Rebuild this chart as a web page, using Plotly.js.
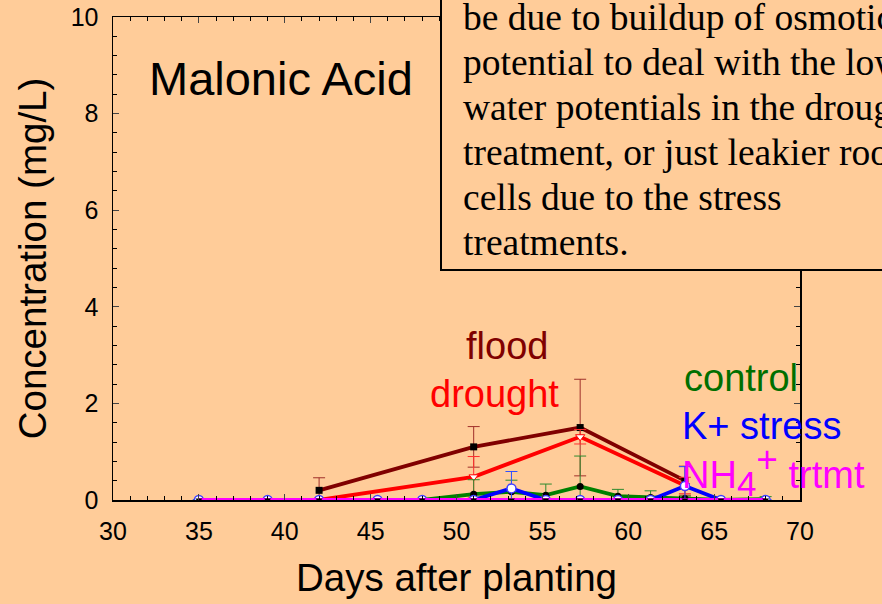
<!DOCTYPE html>
<html><head><meta charset="utf-8">
<script src="https://cdn.plot.ly/plotly-3.0.1.min.js"></script>
<style>html,body{margin:0;padding:0;background:#FFCC99;}</style>
</head><body>
<div id="chart" style="width:882px;height:604px;"></div>
<script>
// Days after planting (sampling dates)
const days = [35, 39, 42, 45.4, 48, 51, 53.2, 55.2, 57.2, 59.4, 61.3, 63.3, 65.4, 68];
const floodDays = [42, 51, 57.2, 63.3];
const floodVals = [0.2, 1.1, 1.5, 0.4];
const floodErr = [0.26, 0.42, 1.0, 0.3];
const droughtDays = [42, 51, 57.2, 63.3];
const droughtVals = [0, 0.48, 1.31, 0.3];
const droughtErr = [0, 0.42, 0.15, 0.17];
const controlVals = [0, 0, 0, 0, 0, 0.12, 0.17, 0.1, 0.28, 0.08, 0.05, 0.03, 0, 0.02];
const controlErr  = [0, 0, 0, 0, 0, 0.3, 0.24, 0.23, 0.63, 0.14, 0.14, 0.05, 0, 0.05];
const kVals = [0, 0, 0, 0, 0, 0, 0.24, 0, 0, 0, 0, 0.29, 0, 0];
const kErr  = [0, 0, 0, 0, 0, 0, 0.35, 0, 0, 0, 0, 0.4, 0, 0];
const nh4Vals = [0, 0, 0, 0, 0, 0, 0, 0, 0, 0, 0, 0, 0, 0];
const xTicks = [30, 35, 40, 45, 50, 55, 60, 65, 70];
const yTicks = [0, 2, 4, 6, 8, 10];
const noteLines = ["be due to buildup of osmotic", "potential to deal with the low", "water potentials in the drought", "treatment, or just leakier root", "cells due to the stress", "treatments."];

function errSpec(arr, color) {
  return {type: 'data', array: arr, visible: true, color: color, thickness: 1, width: 6};
}

const traces = [
  {x: floodDays, y: floodVals, mode: 'lines+markers', name: 'flood',
   line: {color: '#800000', width: 3.8},
   marker: {symbol: 'square', size: 7, color: '#000000'},
   error_y: errSpec(floodErr, '#A0302A')},
  {x: droughtDays, y: droughtVals, mode: 'lines+markers', name: 'drought',
   line: {color: '#FF0000', width: 3.8},
   marker: {symbol: 'triangle-down', size: 8, color: '#FFFFFF', line: {color: '#FF0000', width: 1}},
   error_y: errSpec(droughtErr, '#FF3030')},
  {x: days, y: controlVals, mode: 'lines+markers', name: 'control',
   line: {color: '#008000', width: 3.8},
   marker: {symbol: 'circle', size: 7, color: '#000000'},
   error_y: errSpec(controlErr, '#2E8B2E')},
  {x: days, y: kVals, mode: 'lines+markers', name: 'K+ stress',
   line: {color: '#0000FF', width: 3.8},
   marker: {symbol: 'circle', size: 9, color: '#FFFFFF', line: {color: '#4040FF', width: 1.5}},
   error_y: errSpec(kErr, '#3050FF')},
  {x: days, y: nh4Vals, mode: 'lines+markers', name: 'NH4+ trtmt',
   line: {color: '#FF00FF', width: 3.8},
   marker: {symbol: 'triangle-down', size: 6, color: '#000000'}}
];

const lab = {family: 'Arial, "Liberation Sans", sans-serif'};
const L = 113, R = 82, T = 17, B = 104, W = 882, H = 604;
const pw = W - L - R, ph = H - T - B;
const annotations = [
  {x: (147 - L) / pw, y: (500 - 78) / ph, xref: 'paper', yref: 'paper', text: 'Malonic Acid', showarrow: false, xanchor: 'left', yanchor: 'middle', font: {...lab, size: 47, color: '#000'}},
  {x: 52.95, y: 3.18, text: 'flood', showarrow: false, font: {...lab, size: 38, color: '#800000'}},
  {x: 52.2, y: 2.2, text: 'drought', showarrow: false, font: {...lab, size: 38, color: '#FF0000'}},
  {x: 66.56, y: 2.53, text: 'control', showarrow: false, font: {...lab, size: 38, color: '#006F00'}},
  {x: 63.0, y: 1.53, text: 'K+ stress', showarrow: false, xanchor: 'left', font: {...lab, size: 38, color: '#0000FF'}},
  {x: 63.0, y: 0.6, text: 'NH<sub><span style="font-size:35px">4</span></sub><sup><span style="font-size:37px">+</span></sup> trtmt', showarrow: false, xanchor: 'left', font: {...lab, size: 38, color: '#FF00FF'}}
];
const lineBasePx = [30, 75, 120, 165, 210, 255];
noteLines.forEach((t, i) => {
  annotations.push({x: (461 - L) / pw, y: (500 - lineBasePx[i]) / ph, xref: 'paper', yref: 'paper', text: t, showarrow: false,
    xanchor: 'left', yanchor: 'bottom', yshift: -10,
    font: {family: '"Liberation Serif", "Times New Roman", serif', size: 37.5, color: '#000'}});
});

const layout = {
  width: W, height: H,
  paper_bgcolor: '#FFCC99', plot_bgcolor: '#FFCC99',
  margin: {l: L, r: R, t: T, b: B, pad: 0},
  showlegend: false,
  font: {...lab, color: '#000'},
  xaxis: {range: [30, 70], tickvals: xTicks, ticktext: xTicks.map(String), ticks: 'inside', ticklen: 6, tickwidth: 1,
    showline: true, linecolor: '#000', linewidth: 1.5, mirror: 'allticks', showgrid: false, zeroline: false,
    minor: {dtick: 1, ticks: 'inside', ticklen: 4, tickcolor: '#000'},
    tickfont: {...lab, size: 25}, ticklabelstandoff: 8,
    title: {text: 'Days after planting', font: {...lab, size: 38.5}, standoff: 20}},
  yaxis: {range: [0, 10], tickvals: yTicks, ticktext: yTicks.map(String), ticks: 'inside', ticklen: 6, tickwidth: 1,
    showline: true, linecolor: '#000', linewidth: 1.5, mirror: 'allticks', showgrid: false, zeroline: false,
    minor: {dtick: 0.4, ticks: 'inside', ticklen: 4, tickcolor: '#000'},
    tickfont: {...lab, size: 25}, ticklabelstandoff: 8,
    title: {text: 'Concentration (mg/L)', font: {...lab, size: 38.5}, standoff: 12}},
  shapes: [
    {type: 'rect', xref: 'paper', yref: 'paper', x0: (441 - L) / pw, x1: 1.3, y0: (500 - 270) / ph, y1: 1.2,
     fillcolor: '#FFCC99', line: {color: '#000', width: 2}, layer: 'above'}
  ],
  annotations: annotations
};

Plotly.newPlot('chart', traces, layout, {displayModeBar: false, staticPlot: true});
</script>
</body></html>
